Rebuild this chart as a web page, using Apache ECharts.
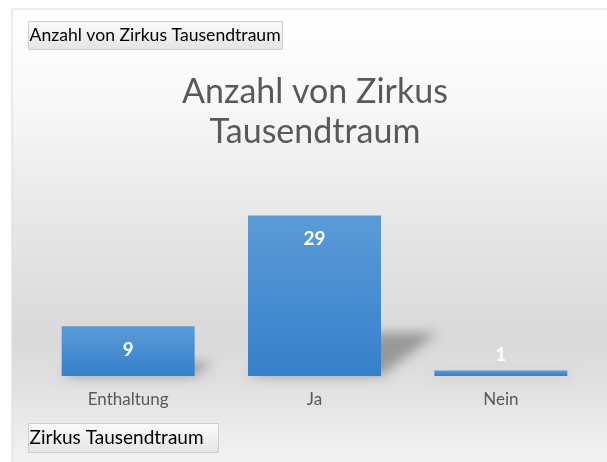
<!DOCTYPE html>
<html>
<head>
<meta charset="utf-8">
<script src="https://cdn.jsdelivr.net/npm/echarts@6/dist/echarts.min.js"></script>
<style>
  html, body { margin: 0; padding: 0; background: #fff; }
  #main { width: 607px; height: 462px; }
</style>
</head>
<body>
<div id="main"></div>
<script>
// Daten
const kategorien = ['Enthaltung', 'Ja', 'Nein'];
const anzahl = [9, 29, 1];
const titel = 'Anzahl von Zirkus\nTausendtraum';
const wertFeld = 'Anzahl von Zirkus Tausendtraum';
const achsenFeld = 'Zirkus Tausendtraum';

const fontFam = 'Lato, "Open Sans", sans-serif';
const chart = echarts.init(document.getElementById('main'));

// Excel-Feldschaltfläche
const feldButton = (x, y, w, h, text, size) => ({
  type: 'group',
  x: x, y: y,
  children: [
    {
      type: 'rect',
      shape: { x: 0, y: 0, width: w, height: h },
      style: {
        fill: new echarts.graphic.LinearGradient(0, 0, 0, 1, [
          { offset: 0, color: '#fbfbfb' },
          { offset: 1, color: '#e4e4e4' }
        ]),
        stroke: '#cfcfcf', lineWidth: 1
      }
    },
    {
      type: 'text',
      x: 1, y: h / 2,
      style: { text: text, fill: '#000', font: size + 'px ' + fontFam, textVerticalAlign: 'middle' }
    }
  ]
});

// Perspektivischer Schatten hinter den Balken (nur der weiche Schatten wird sichtbar)
const SHIFT = 3000;
const schatten = (params, api) => {
  const v = api.value(1);
  const base = api.coord([api.value(0), 0]);
  const top = api.coord([api.value(0), v]);
  const h = base[1] - top[1];
  const half = 133 / 2;
  const dx = h * 0.35, dy = h * 0.27;
  const xl = base[0] - half - SHIFT, xr = base[0] + half - SHIFT, yb = base[1];
  return {
    type: 'polygon',
    shape: { points: [[xl, yb], [xr, yb], [xr + dx, yb - dy], [xl + dx, yb - dy]] },
    style: {
      fill: '#000',
      shadowBlur: 12,
      shadowOffsetX: SHIFT,
      shadowColor: 'rgba(0,0,0,0.3)'
    }
  };
};

const option = {
  animation: false,
  textStyle: { fontFamily: fontFam },
  graphic: [
    {
      type: 'rect', z: -10,
      shape: { x: 12, y: 9, width: 620, height: 470 },
      style: {
        fill: new echarts.graphic.LinearGradient(0, 0, 0, 1, [
          { offset: 0, color: '#ffffff' },
          { offset: 0.2, color: '#f8f8f8' },
          { offset: 0.45, color: '#e7e7e7' },
          { offset: 0.7, color: '#d9d9d9' },
          { offset: 0.8, color: '#e0e0e0' },
          { offset: 0.9, color: '#ececec' },
          { offset: 1, color: '#f5f5f5' }
        ]),
        stroke: '#d9d9d9', lineWidth: 1
      }
    },
    feldButton(28.5, 21.5, 254, 28, wertFeld, 17.6),
    feldButton(28.5, 423.5, 190, 29, achsenFeld, 19)
  ],
  title: {
    text: titel,
    left: 315,
    top: 72,
    padding: 0,
    textAlign: 'center',
    textStyle: { fontFamily: fontFam, fontSize: 34, fontWeight: 'normal', color: '#595959', lineHeight: 40 }
  },
  grid: { left: 35, right: 13, top: 210, bottom: 86 },
  xAxis: {
    type: 'category',
    data: kategorien,
    axisLine: { show: false },
    axisTick: { show: false },
    axisLabel: { color: '#595959', fontSize: 17, margin: 15, fontFamily: fontFam }
  },
  yAxis: { type: 'value', min: 0, max: 30, show: false },
  series: [
    {
      type: 'custom',
      z: 1,
      renderItem: schatten,
      data: anzahl.map((v, i) => [i, v])
    },
    {
      type: 'bar',
      z: 3,
      barWidth: 133,
      data: anzahl.map(v => ({
        value: v,
        label: v < 3 ? { position: 'top', distance: 6 } : {}
      })),
      itemStyle: {
        color: new echarts.graphic.LinearGradient(0, 0, 0, 1, [
          { offset: 0, color: '#5b9bd7' },
          { offset: 1, color: '#3580cb' }
        ])
      },
      label: {
        show: true,
        position: 'insideTop',
        distance: 14,
        color: '#fff',
        fontWeight: 'bold',
        fontSize: 19,
        fontFamily: fontFam
      }
    }
  ]
};

chart.setOption(option);
</script>
</body>
</html>
